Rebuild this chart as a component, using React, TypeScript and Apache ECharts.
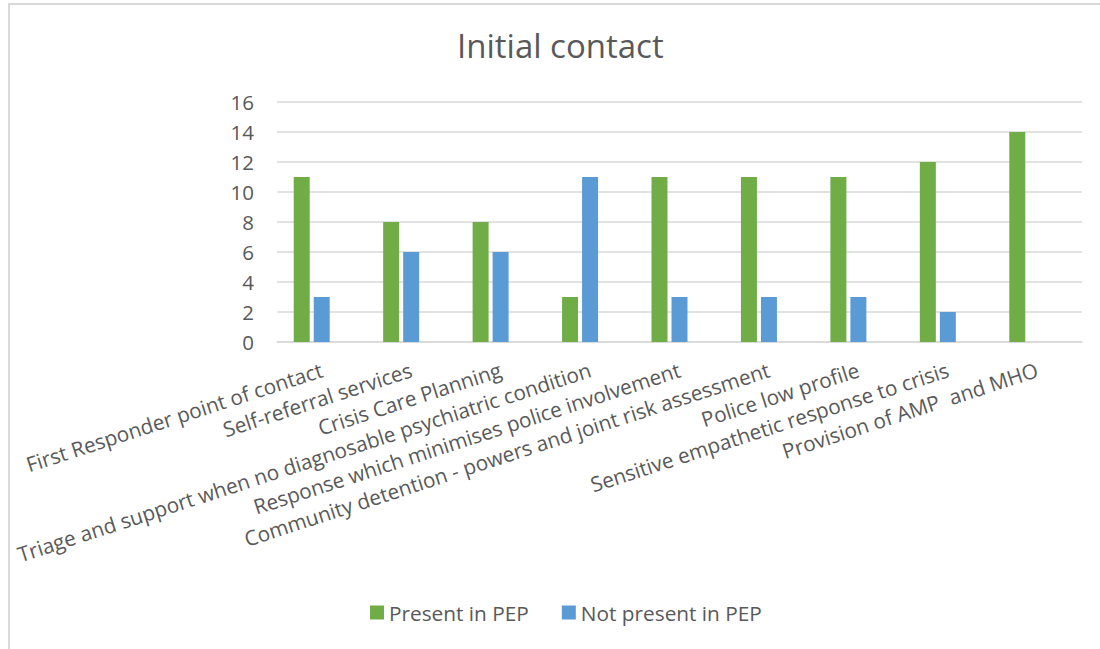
import React, { useEffect, useRef } from "react";
import * as echarts from "echarts";

const categories = [
  "First Responder point of contact",
  "Self-referral services",
  "Crisis Care Planning",
  "Triage and support when no diagnosable psychiatric condition",
  "Response which minimises police involvement",
  "Community detention - powers and joint risk assessment",
  "Police low profile",
  "Sensitive empathetic response to crisis",
  "Provision of AMP  and MHO",
];
const presentInPEP = [11, 8, 8, 3, 11, 11, 11, 12, 14];
const notPresentInPEP = [3, 6, 6, 11, 3, 3, 3, 2, 0];
const emptySeries = [null, null, null, null, null, null, null, null, null];
const yTicks = { min: 0, max: 16, interval: 2 };

const FONT = "'Open Sans', sans-serif";
const TXT = "#595959";

export default function App() {
  const ref = useRef<HTMLDivElement>(null);
  useEffect(() => {
    if (!ref.current) return;
    const chart = echarts.init(ref.current, undefined, { renderer: "svg" });
    chart.setOption({
      animation: false,
      backgroundColor: "#ffffff",
      textStyle: { fontFamily: FONT },
      title: {
        text: "Initial contact",
        left: 452,
        top: 24,
        textStyle: { fontFamily: FONT, fontSize: 33, fontWeight: "normal", color: TXT },
      },
      legend: {
        data: ["Present in PEP", "Not present in PEP"],
        left: 365,
        top: 597,
        itemWidth: 14,
        itemHeight: 14,
        itemGap: 33,
        icon: "rect",
        textStyle: { fontFamily: FONT, fontSize: 20.8, color: TXT },
      },
      grid: { left: 277, right: 18, top: 102, bottom: 307, containLabel: false },
      xAxis: {
        type: "category",
        data: categories,
        axisLine: { lineStyle: { color: "#d9d9d9", width: 1.5 } },
        axisTick: { show: false },
        axisLabel: {
          interval: 0,
          rotate: 18,
          margin: 27,
          fontFamily: FONT,
          fontSize: 20.8,
          color: TXT,
        },
      },
      yAxis: {
        type: "value",
        min: yTicks.min,
        max: yTicks.max,
        interval: yTicks.interval,
        axisLine: { show: false },
        axisTick: { show: false },
        splitLine: { lineStyle: { color: "#d9d9d9", width: 1.5 } },
        axisLabel: { margin: 23, fontFamily: FONT, fontSize: 20.5, color: TXT },
      },
      series: [
        {
          name: "Present in PEP",
          type: "bar",
          data: presentInPEP,
          barWidth: 16,
          barGap: "25%",
          itemStyle: { color: "#70AD47" },
        },
        {
          name: "Not present in PEP",
          type: "bar",
          data: notPresentInPEP,
          barWidth: 16,
          barGap: "25%",
          itemStyle: { color: "#5B9BD5" },
        },
        {
          name: "Series3",
          type: "bar",
          data: emptySeries,
          barWidth: 16,
          barGap: "25%",
          itemStyle: { color: "#A5A5A5" },
        },
      ],
      graphic: [
        {
          type: "rect",
          shape: { x: 9, y: 4, width: 1100, height: 700 },
          style: { fill: "none", stroke: "#d9d9d9", lineWidth: 2 },
          silent: true,
        },
      ],
    });
    return () => chart.dispose();
  }, []);
  return (
    <div
      ref={ref}
      style={{ position: "absolute", left: 0, top: 0, width: 1100, height: 649 }}
    />
  );
}
